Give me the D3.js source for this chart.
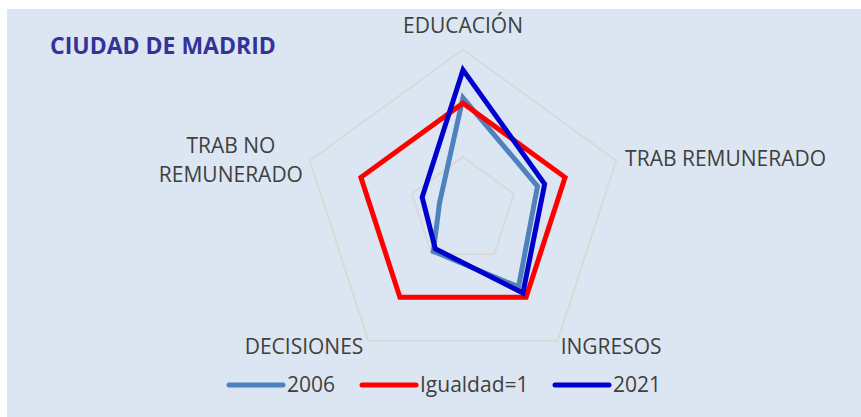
<!DOCTYPE html>
<html>
<head>
<meta charset="utf-8">
<script src="https://cdn.jsdelivr.net/npm/d3@7"></script>
<style>
  body { margin: 0; background: #ffffff; }
  text { font-family: "Open Sans", sans-serif; fill: #404040; }
</style>
</head>
<body>
<div id="chart"></div>
<script>
// data
var axes = ["EDUCACIÓN", "TRAB REMUNERADO", "INGRESOS", "DECISIONES", "TRAB NO REMUNERADO"];
var values_2006 = [1.05, 0.73, 0.88, 0.47, 0.23];
var values_igualdad = [1, 1, 1, 1, 1];
var values_2021 = [1.31, 0.80, 0.95, 0.44, 0.40];
var grid_levels = [0.5, 1.0, 1.5];

var series = [
  { name: "2006", values: values_2006, color: "#4F81BD" },
  { name: "Igualdad=1", values: values_igualdad, color: "#FF0000" },
  { name: "2021", values: values_2021, color: "#0000CC" }
];

var svg_width = 861;
var svg_height = 417;
var cx = 463, cy = 210.5;

var svg = d3.select("#chart").append("svg")
  .attr("width", svg_width)
  .attr("height", svg_height);

// background panel
svg.append("rect")
  .attr("x", 7).attr("y", 9)
  .attr("width", svg_width - 7).attr("height", svg_height - 9)
  .attr("fill", "#DCE6F2");

var r_scale = d3.scaleLinear().domain([0, 1.5]).range([0, 161]);
var angle = d3.scalePoint().domain(axes).range([0, 2 * Math.PI * 4 / 5]);

var chart_group = svg.append("g")
  .attr("transform", `translate(${cx}, ${cy})`);

var radar_line = d3.lineRadial()
  .angle((d, i) => angle(axes[i]))
  .radius(d => r_scale(d))
  .curve(d3.curveLinearClosed);

// grid pentagons
chart_group.selectAll(".grid")
  .data(grid_levels)
  .enter()
  .append("path")
  .attr("class", "grid")
  .attr("d", lvl => radar_line(axes.map(() => lvl)))
  .attr("fill", "none")
  .attr("stroke", "#D9D9D9")
  .attr("stroke-width", 2);

// series
chart_group.selectAll(".series")
  .data(series)
  .enter()
  .append("path")
  .attr("class", "series")
  .attr("d", d => radar_line(d.values))
  .attr("fill", "none")
  .attr("stroke", d => d.color)
  .attr("stroke-width", 5)
  .attr("stroke-linejoin", "miter");

// axis labels
function point(name, r) {
  var a = angle(name);
  return [r * Math.sin(a), -r * Math.cos(a)];
}
var outer = r_scale(1.5);
var label_specs = [
  { name: "EDUCACIÓN", lines: ["EDUCACIÓN"], dx: 0, dy: -17, anchor: "middle" },
  { name: "TRAB REMUNERADO", lines: ["TRAB REMUNERADO"], dx: 9, dy: 5, anchor: "start" },
  { name: "INGRESOS", lines: ["INGRESOS"], dx: 3, dy: 13, anchor: "start" },
  { name: "DECISIONES", lines: ["DECISIONES"], dx: -5, dy: 13, anchor: "end" },
  { name: "TRAB NO REMUNERADO", lines: ["TRAB NO", "REMUNERADO"], dx: -79, dy: -8, anchor: "middle" }
];
label_specs.forEach(function(s) {
  var p = point(s.name, outer);
  var t = chart_group.append("text")
    .attr("x", p[0] + s.dx)
    .attr("y", p[1] + s.dy)
    .attr("text-anchor", s.anchor)
    .attr("font-size", "21px");
  s.lines.forEach(function(l, i) {
    t.append("tspan")
      .attr("x", p[0] + s.dx)
      .attr("dy", i === 0 ? 0 : 29)
      .text(l);
  });
});

// title
svg.append("text")
  .attr("x", 50)
  .attr("y", 54)
  .attr("font-size", "23px")
  .attr("font-weight", "bold")
  .style("fill", "#333399")
  .text("CIUDAD DE MADRID");

// legend
var legend_x = [229, 362, 555];
var legend = svg.selectAll(".legend")
  .data(series)
  .enter()
  .append("g")
  .attr("class", "legend")
  .attr("transform", (d, i) => `translate(${legend_x[i]}, 385)`);

legend.append("line")
  .attr("x1", 0).attr("x2", 54)
  .attr("y1", 0).attr("y2", 0)
  .attr("stroke", d => d.color)
  .attr("stroke-width", 5)
  .attr("stroke-linecap", "round");

legend.append("text")
  .attr("x", 58)
  .attr("y", 7)
  .attr("font-size", "21px")
  .text(d => d.name);
</script>
</body>
</html>
